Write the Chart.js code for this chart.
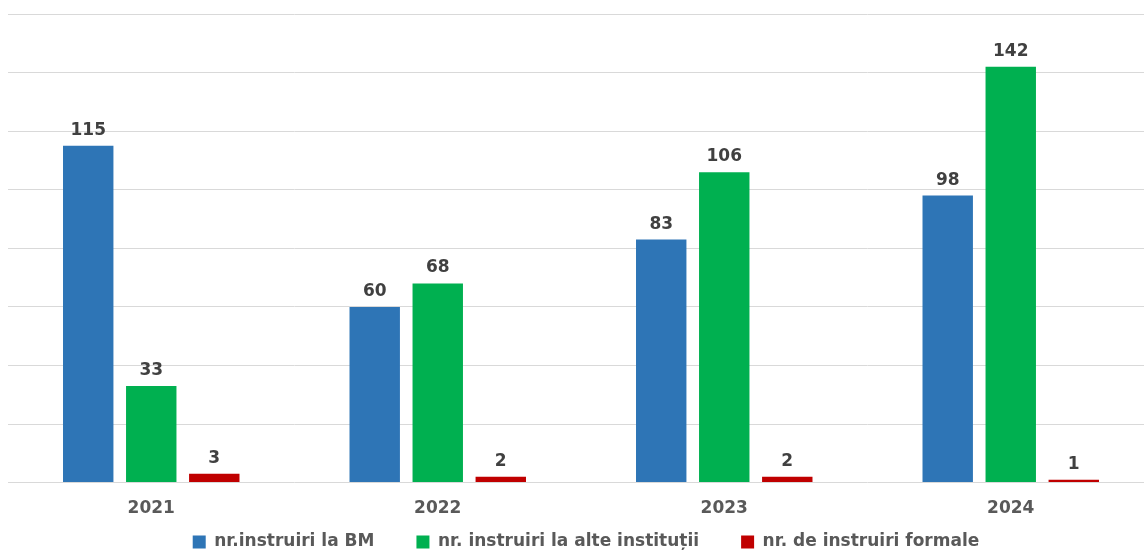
<!DOCTYPE html>
<html>
<head>
<meta charset="utf-8">
<script src="https://cdn.jsdelivr.net/npm/chart.js@4"></script>
<style>
    body { margin: 0; overflow: hidden; background: #fff; }
    #wrap { position: relative; width: 1160px; height: 552px; }
</style>
</head>
<body>
<div id="wrap"><canvas id="bar-chart"></canvas></div>
<script>
const years = ["2021", "2022", "2023", "2024"];
const seriesNames = ["nr.instruiri la BM", "nr. instruiri la alte instituții", "nr. de instruiri formale"];
const bmValues = [115, 60, 83, 98];
const alteValues = [33, 68, 106, 142];
const formaleValues = [3, 2, 2, 1];
const yTicks = [0, 20, 40, 60, 80, 100, 120, 140, 160];

const FONT = "'DejaVu Sans', Verdana, sans-serif";

// draw value on top of every bar
const valueLabels = {
    id: "valueLabels",
    afterDatasetsDraw(chart) {
        const ctx = chart.ctx;
        ctx.save();
        ctx.font = "bold 17px " + FONT;
        ctx.fillStyle = "#404040";
        ctx.textAlign = "center";
        ctx.textBaseline = "alphabetic";
        chart.data.datasets.forEach((ds, i) => {
            chart.getDatasetMeta(i).data.forEach((bar, j) => {
                ctx.fillText(ds.data[j], bar.x, bar.y - 11);
            });
        });
        ctx.restore();
    }
};

// legend padding is big (for the gaps between items), pull it back up
const legendShift = {
    id: "legendShift",
    afterLayout(chart) {
        chart.legend.top -= 43.5;
        chart.legend.left += 5;
        chart.legend.right += 5;
    }
};

new Chart(document.getElementById("bar-chart"), {
    type: "bar",
    data: {
        labels: years,
        datasets: [{
            label: seriesNames[0],
            backgroundColor: "#2E75B6",
            data: bmValues
        }, {
            label: seriesNames[1],
            backgroundColor: "#00B050",
            data: alteValues
        }, {
            label: seriesNames[2],
            backgroundColor: "#C00000",
            data: formaleValues
        }]
    },
    options: {
        responsive: true,
        maintainAspectRatio: false,
        animation: false,
        datasets: {
            bar: {
                categoryPercentage: 0.66,
                barPercentage: 0.8
            }
        },
        layout: {
            padding: { top: 14, left: 8, right: 6, bottom: 0 }
        },
        scales: {
            y: {
                min: 0,
                max: 160,
                afterBuildTicks: (axis) => {
                    axis.ticks = yTicks.map((v) => ({ value: v }));
                },
                ticks: { display: false },
                grid: { color: "#d9d9d9", drawTicks: false },
                border: { display: false }
            },
            x: {
                grid: { display: false, drawTicks: false },
                border: { display: false },
                ticks: {
                    padding: 16,
                    color: "#595959",
                    font: { family: FONT, size: 17, weight: "bold" }
                }
            }
        },
        plugins: {
            legend: {
                display: true,
                position: "bottom",
                maxHeight: 17,
                labels: {
                    boxWidth: 13,
                    boxHeight: 13,
                    padding: 42,
                    color: "#595959",
                    font: { family: FONT, size: 17, weight: "bold" }
                }
            },
            tooltip: { enabled: false }
        }
    },
    plugins: [valueLabels, legendShift]
});
</script>
</body>
</html>
